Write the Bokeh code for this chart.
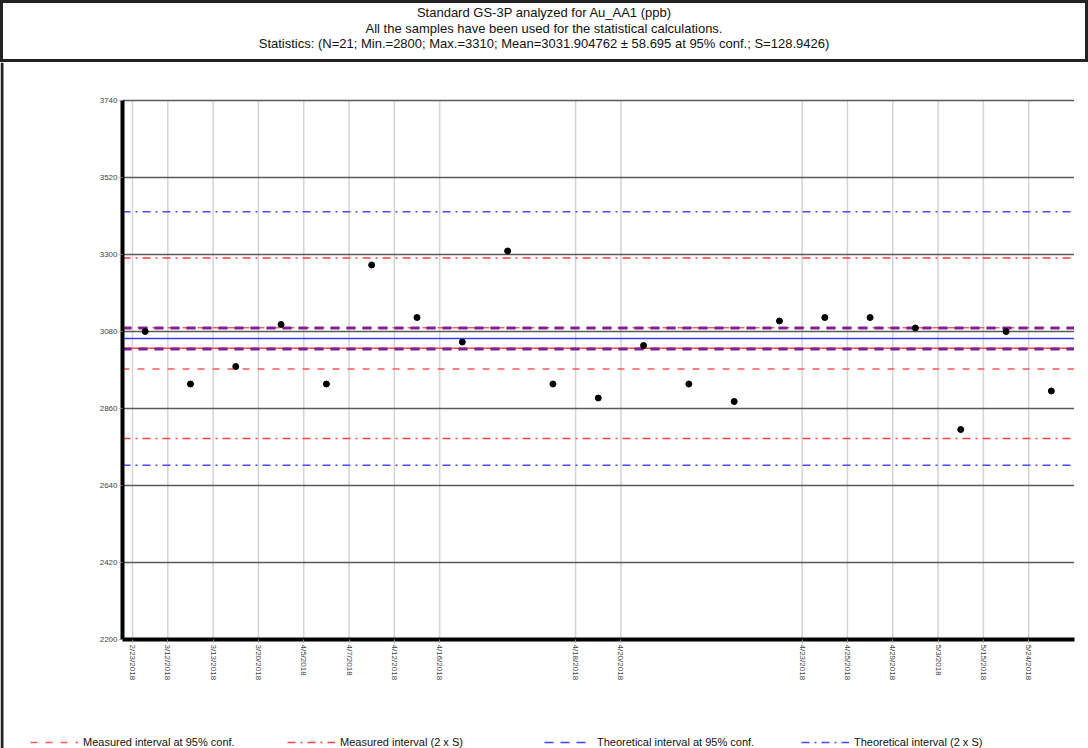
from bokeh.plotting import figure
from bokeh.models import (Range1d, FixedTicker, Legend, LegendItem, Div, Span)
from bokeh.layouts import column
from bokeh.embed import file_html
from bokeh.resources import INLINE

# ---------------- data ----------------
title_lines = [
    "Standard GS-3P analyzed for Au_AA1 (ppb)",
    "All the samples have been used for the statistical calculations.",
    "Statistics: (N=21; Min.=2800; Max.=3310; Mean=3031.904762 \u00b1 58.695 at 95% conf.; S=128.9426)",
]
sample_values = [3080, 2930, 2980, 3100, 2930, 3270, 3120, 3050, 3310, 2930, 2890,
                 3040, 2930, 2880, 3110, 3120, 3120, 3090, 2800, 3080, 2910]
tick_slots = [0.22, 1, 2, 3, 4, 5, 6, 7, 10, 11, 15, 16, 17, 18, 19, 20]
tick_labels = ["2/23/2018", "3/12/2018", "3/13/2018", "3/20/2018", "4/5/2018", "4/7/2018",
               "4/12/2018", "4/16/2018", "4/18/2018", "4/20/2018", "4/23/2018", "4/25/2018",
               "4/29/2018", "5/3/2018", "5/15/2018", "5/24/2018"]
y_ticks = [2200, 2420, 2640, 2860, 3080, 3300, 3520, 3740]
meas_mean = 3031.904762
meas_conf = 58.695
meas_s = 128.9426
theo_value = 3060
theo_conf = 30
theo_s = 181
legend_labels = ["Measured interval at 95% conf.", "Measured interval (2 x S)",
                 "Theoretical interval at 95% conf.", "Theoretical interval (2 x S)"]

FONT = "Liberation Sans"

# ---------------- layout (pixels) ----------------
W, H_TITLE, H_PLOT = 1088, 62, 686
AX_LEFT, AX_RIGHT = 122, 1073.5      # x pixel of slot 0 and slot n
AX_TOP, AX_BOTTOM = 38, 577          # y pixel (inside the figure) of y_ticks[-1] and y_ticks[0]

# ---------------- title panel ----------------
title_div = Div(text="<br>".join(title_lines), width=W, height=H_TITLE, margin=0,
                styles={"border": "3px solid #222222", "box-sizing": "border-box",
                        "text-align": "center", "font-family": FONT, "font-size": "13px",
                        "line-height": "15.5px", "padding-top": "2px", "color": "#111111",
                        "overflow": "hidden"})

# ---------------- main chart ----------------
n = len(sample_values)
ymin, ymax = y_ticks[0], y_ticks[-1]
xu = n / (AX_RIGHT - AX_LEFT)
yu = (ymax - ymin) / (AX_BOTTOM - AX_TOP)
x_range = Range1d(-AX_LEFT * xu, n + (W - AX_RIGHT) * xu)
y_range = Range1d(ymin - (H_PLOT - AX_BOTTOM) * yu, ymax + AX_TOP * yu)

p = figure(width=W, height=H_PLOT, x_range=x_range, y_range=y_range,
           toolbar_location=None, output_backend="svg", min_border=0)
p.outline_line_color = None
p.grid.visible = False

# page border on the left edge
p.add_layout(Span(location=x_range.start + 1.5 * xu, dimension="height",
                  line_color="#222222", line_width=3))

# grid lines, limited to the plotting area
p.segment(x0=tick_slots, x1=tick_slots, y0=[ymin] * len(tick_slots), y1=[ymax] * len(tick_slots),
          line_color="#d4d4d4", line_width=1.5)
p.segment(x0=[0] * len(y_ticks), x1=[n] * len(y_ticks), y0=y_ticks, y1=y_ticks,
          line_color="#5a5a5a", line_width=1.5)

# axes
p.xaxis.ticker = FixedTicker(ticks=tick_slots)
p.xaxis.major_label_overrides = {t: l for t, l in zip(tick_slots, tick_labels)}
p.xaxis.major_label_orientation = "vertical"
p.xaxis.fixed_location = ymin
p.xaxis.bounds = (0, n)
p.yaxis.ticker = FixedTicker(ticks=y_ticks)
p.yaxis.fixed_location = 0
p.yaxis.bounds = (ymin, ymax)
for ax in (p.xaxis, p.yaxis):
    ax.axis_line_width = 4
    ax.axis_line_color = "black"
    ax.major_tick_line_color = "#888888"
    ax.major_tick_in = 0
    ax.major_tick_out = 3
    ax.minor_tick_line_color = None
    ax.major_label_text_font = FONT
    ax.major_label_text_font_size = "8px"
    ax.major_label_text_color = "#444444"
    ax.major_label_standoff = 2

x0 = [0] * 2
x1 = [n] * 2

# solid centre lines
p.segment(x0=[0], x1=[n], y0=[meas_mean], y1=[meas_mean], line_color="#ff4a4a", line_width=1.5)
p.segment(x0=[0], x1=[n], y0=[theo_value], y1=[theo_value], line_color="#3a3aff", line_width=1.5)

# measured 95% conf
mc = [meas_mean - meas_conf, meas_mean + meas_conf]
r_mc = p.segment(x0=x0, x1=x1, y0=mc, y1=mc, line_color="#ff5a5a", line_width=1.5,
                 line_dash="7 8")
# measured 2 x S
ms = [meas_mean - 2 * meas_s, meas_mean + 2 * meas_s]
r_ms = p.segment(x0=x0, x1=x1, y0=ms, y1=ms, line_color="#ff4040", line_width=1.5,
                 line_dash="8 5 2 5")
# theoretical 95% conf: blue dashes, which look purple where they overlap the red lines
tc = [theo_value - theo_conf, theo_value + theo_conf]
r_tc = p.segment(x0=x0, x1=x1, y0=tc, y1=tc, line_color="#4040ff", line_width=1.5,
                 line_dash="9 7")
p.segment(x0=x0, x1=x1, y0=tc, y1=tc, line_color="#85208f", line_width=3, line_dash="9 7")
# theoretical 2 x S
ts = [theo_value - 2 * theo_s, theo_value + 2 * theo_s]
r_ts = p.segment(x0=x0, x1=x1, y0=ts, y1=ts, line_color="#4a4aff", line_width=1.5,
                 line_dash="8 5 2 5")

# samples
xs = [i + 0.5 for i in range(n)]
p.scatter(x=xs, y=sample_values, size=6, color="black")

legend = Legend(items=[LegendItem(label=legend_labels[0], renderers=[r_mc]),
                       LegendItem(label=legend_labels[1], renderers=[r_ms]),
                       LegendItem(label=legend_labels[2], renderers=[r_tc]),
                       LegendItem(label=legend_labels[3], renderers=[r_ts])],
                orientation="horizontal", location=(28, -2))
legend.background_fill_alpha = 0
legend.border_line_alpha = 0
legend.label_text_font = FONT
legend.label_text_font_size = "11px"
legend.label_text_color = "#111111"
legend.glyph_width = 48
legend.glyph_height = 12
legend.label_standoff = 5
legend.label_width = 190
legend.label_height = 12
legend.spacing = 14
legend.padding = 2
legend.margin = 0
p.add_layout(legend, "center")

layout = column(title_div, p, spacing=0)
open("out.html", "w").write(file_html(layout, INLINE))
